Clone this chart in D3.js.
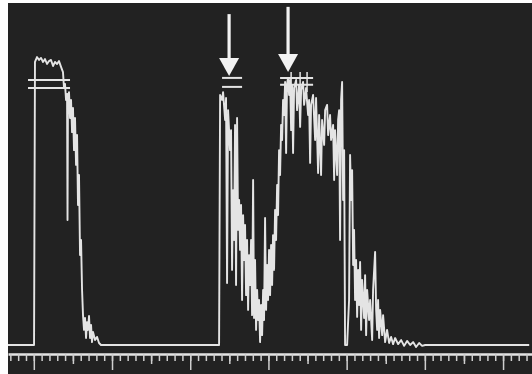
<!DOCTYPE html>
<html>
<head>
<meta charset="utf-8">
<script src="https://cdn.jsdelivr.net/npm/d3@7"></script>
<style>
  body { margin: 0; background: #fff; }
  svg { display: block; }
</style>
</head>
<body>
<div id="chart"></div>
<script>
// trace: time in ms, amplitude in % of peak
var traceMs = [-330, 3, 15, 41, 67, 92, 118, 143, 169, 194, 220, 246, 271, 297, 322, 348, 373, 386, 399, 412, 425, 431, 437, 450, 463, 476, 489, 501, 514, 527, 540, 553, 565, 578, 591, 604, 617, 629, 642, 655, 668, 680, 693, 706, 719, 732, 744, 757, 783, 808, 834, 859, 2369,
  2382, 2407, 2420, 2446, 2458, 2471, 2484, 2509, 2522, 2535, 2548, 2561, 2573, 2586, 2599, 2612, 2625, 2637, 2650, 2663, 2676, 2689, 2701, 2714, 2727, 2740, 2752, 2765, 2778, 2791, 2804, 2816, 2829, 2842, 2855, 2868, 2880, 2893, 2906, 2919, 2932, 2944, 2957, 2970, 2983, 2995, 3008, 3021, 3034, 3047, 3059, 3072, 3085, 3098, 3111, 3123, 3136, 3149, 3162, 3175, 3187, 3200, 3213, 3226, 3238, 3251, 3264, 3277, 3290, 3302, 3315, 3328, 3354, 3366, 3392, 3405, 3418, 3443, 3456, 3481, 3507, 3520, 3533, 3545, 3571, 3597, 3609, 3635, 3648, 3673, 3686, 3712, 3725, 3750, 3763, 3788, 3801, 3827, 3840, 3852, 3878, 3891, 3904, 3916, 3929, 3942, 3955, 3968, 3980, 4006, 4031, 4044, 4057, 4070, 4083, 4095, 4108, 4121, 4134, 4147, 4159, 4172, 4185, 4198, 4223, 4236, 4249, 4262, 4287, 4300, 4326, 4338, 4364, 4377, 4390, 4402, 4415, 4428, 4454, 4466, 4492, 4517, 4543, 4569, 4594, 4620, 4658, 4697, 4735, 4773, 4812, 4850, 4888, 4927, 4965, 5004, 6334];
var traceAmp = [0, 0, 97.6, 99.3, 98.3, 99, 97.6, 98.6, 96.9, 97.9, 98.3, 96.2, 97.6, 96.9, 97.9, 95.9, 94.1, 88.6, 90, 84.5, 86.6, 43.1, 85.2, 87.2, 78.3, 84.5, 73.4, 81.7, 67.2, 78.3, 62.1, 72.4, 48.3, 58.6, 31, 36.2, 19, 10.3, 5.2, 9.3, 2.4, 7.9, 5.2, 10, 2.4, 6.9, 1, 4.5, 1.7, 2.8, 0.7, 0, 0,
  86.2, 84.5, 87.2, 77.6, 85.2, 21.4, 81, 67.2, 74.1, 25.9, 53.4, 36.2, 75.9, 20.7, 78.3, 39.7, 50, 32.8, 48.3, 15.5, 44.8, 29.3, 41.4, 17.2, 36.2, 12.1, 31, 20.7, 36.2, 10.3, 56.9, 9.3, 29.3, 5.2, 19, 8.6, 15.5, 1, 13.8, 3.4, 19, 8.6, 43.8, 12.1, 27.6, 15.5, 32.8, 17.2, 34.5, 20.7, 37.9, 25.9, 46.6, 36.2, 55.2, 44.8, 67.2, 58.6, 75.9, 70.7, 84.5, 79.3, 90.7, 66.2, 90, 92.1, 86.2, 91.4, 74.1, 89.7, 66.2, 88.6, 91.4, 81, 89.7, 75.2, 87.9, 90.7, 82.8, 88.6, 79.3, 84.5, 62.8, 82.8, 86.2, 70.7, 85.2, 59.3, 79.3, 58.6, 77.6, 69, 81, 82.8, 72.4, 79.3, 70.7, 75.9, 56.9, 74.1, 58.6, 77.6, 81, 36.2, 84.5, 90.7, 50, 67.2, 0, 0, 15.5, 65.5, 50, 60.3, 27.6, 39.7, 15.5, 29.3, 9.7, 25.9, 13.8, 28.6, 5.2, 22.4, 9.3, 24.1, 3.4, 19, 8.6, 15.5, 1.7, 19, 32.1, 12.1, 5.2, 15.5, 2.4, 12.1, 3.4, 10.3, 1, 5.2, 0.7, 2.8, 0.3, 2.4, 0.3, 1.7, -0.3, 1.4, 0, 1, -0.7, 0.7, -0.3, 0, 0];

// "=" level markers
var markerStart = [-74, -74, 2407, 2407, 3149, 3149];
var markerEnd = [463, 463, 2663, 2663, 3571, 3571];
var markerLevel = [91.4, 88.6, 92.1, 89, 92.1, 89.7];
var crossTime = [3290, 3405, 3494];
var crossLow = [87.2, 87.2, 87.2];
var crossHigh = [94.1, 94.1, 94.1];

// arrows
var arrowTime = [2497, 3251];
var arrowTip = [92.8, 94.1];
var arrowTop = [114.1, 116.6];

// x ticks (ms)
var majorTicks = [0, 1000, 2000, 3000, 4000, 5000, 6000];
var midTicks = [-500, 500, 1500, 2500, 3500, 4500, 5500];
var minorTicks = d3.range(-300, 6400, 100);

var W = 532, H = 374;
var svg = d3.select("#chart").append("svg")
  .attr("width", W)
  .attr("height", H);

svg.append("rect")
  .attr("x", 8).attr("y", 3)
  .attr("width", W - 8).attr("height", H - 3)
  .attr("fill", "#222222");

svg.append("defs").append("filter")
  .attr("id", "soft")
  .append("feGaussianBlur")
  .attr("stdDeviation", 0.65);

var x = d3.scaleLinear().domain([-330, 6370]).range([8, 532]);
var y = d3.scaleLinear().domain([0, 100]).range([345, 55]);

var ink = "#e4e4e4";
var g = svg.append("g").attr("filter", "url(#soft)");

// axis
var axisY = 354;
function tickAxis(vals, len, keepDomain) {
  var a = g.append("g")
    .attr("transform", "translate(0," + axisY + ")")
    .call(d3.axisBottom(x).tickValues(vals).tickSize(len).tickSizeOuter(0).tickFormat(""));
  a.selectAll(".tick line").attr("stroke", "#cfcfcf").attr("stroke-width", 1.5);
  if (keepDomain) a.select(".domain").attr("stroke", ink).attr("stroke-width", 2.4);
  else a.select(".domain").remove();
}
tickAxis(minorTicks, 7, true);
tickAxis(midTicks, 10, false);
tickAxis(majorTicks, 16, false);

// trace
var line = d3.line()
  .x(function(d) { return x(d[0]); })
  .y(function(d) { return y(d[1]); });

g.append("path")
  .datum(d3.zip(traceMs, traceAmp))
  .attr("d", line)
  .attr("fill", "none")
  .attr("stroke", ink)
  .attr("stroke-width", 1.9)
  .attr("stroke-linejoin", "round");

// level markers
g.selectAll(".marker")
  .data(markerLevel)
  .enter().append("line")
  .attr("class", "marker")
  .attr("x1", function(d, i) { return x(markerStart[i]); })
  .attr("x2", function(d, i) { return x(markerEnd[i]); })
  .attr("y1", function(d) { return y(d); })
  .attr("y2", function(d) { return y(d); })
  .attr("stroke", ink)
  .attr("stroke-width", 2);

g.selectAll(".cross")
  .data(crossTime)
  .enter().append("line")
  .attr("class", "cross")
  .attr("x1", function(d) { return x(d); })
  .attr("x2", function(d) { return x(d); })
  .attr("y1", function(d, i) { return y(crossLow[i]); })
  .attr("y2", function(d, i) { return y(crossHigh[i]); })
  .attr("stroke", ink)
  .attr("stroke-width", 1.5);

// arrows
var headH = 18, headW = 10;
arrowTime.forEach(function(t, i) {
  var ax = x(t), tip = y(arrowTip[i]), top = y(arrowTop[i]);
  g.append("line")
    .attr("x1", ax).attr("x2", ax)
    .attr("y1", top).attr("y2", tip - headH + 2)
    .attr("stroke", "#f2f2f2")
    .attr("stroke-width", 3.2);
  g.append("path")
    .attr("d", "M" + (ax - headW) + "," + (tip - headH) + "L" + (ax + headW) + "," + (tip - headH) + "L" + ax + "," + tip + "Z")
    .attr("fill", "#f2f2f2");
});
</script>
</body>
</html>
